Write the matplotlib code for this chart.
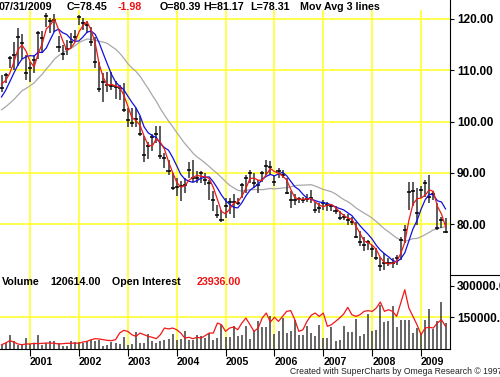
import matplotlib
matplotlib.use('Agg')
import matplotlib.pyplot as plt
from matplotlib.lines import Line2D
import numpy as np
import pandas as pd

plt.rcParams['font.family'] = ['Liberation Sans', 'DejaVu Sans']

# ---------------- data (monthly bars, Jun 2000 .. Jul 2009) ----------------
years = ['2001', '2002', '2003', '2004', '2005', '2006', '2007', '2008', '2009']
year_start_index = [7, 19, 31, 43, 55, 67, 79, 91, 103]

# closes of the months before the first visible bar (seed the moving averages)
warmup_close = [99, 100, 100, 101, 100, 101, 101, 102, 101, 102, 102, 103.6,
                101.5, 102.5, 102.9, 107.0, 108.3]

high = [109.1, 109.5, 112.8, 115.6, 118.2, 117.0, 113.0, 111.6, 113.0, 117.6,
        117.7, 121.1, 120.2, 121.0, 116.7, 115.0, 116.0, 117.2, 117.9, 120.8,
        120.2, 119.6, 118.5, 116.4, 111.6, 109.5, 109.7, 109.7, 108.0, 107.1,
        107.5, 102.7, 102.7, 102.7, 101.0, 97.1, 96.1, 97.5, 99.2, 99.2,
        93.9, 92.6, 90.0, 89.0, 88.4, 89.0, 92.2, 92.6, 90.3, 90.3,
        90.0, 88.7, 86.4, 83.8, 82.8, 85.1, 85.1, 85.8, 85.1, 88.0,
        89.6, 90.6, 90.0, 88.7, 90.3, 92.6, 92.4, 89.6, 91.0, 90.6,
        89.0, 86.4, 85.8, 85.4, 85.4, 85.8, 86.7, 84.4, 84.1, 84.8,
        84.4, 83.8, 83.5, 82.5, 81.9, 81.9, 81.5, 80.5, 78.6, 77.6,
        77.0, 76.0, 75.4, 73.7, 74.4, 73.4, 73.4, 74.0, 77.6, 79.9,
        88.3, 88.3, 87.1, 87.4, 88.7, 89.6, 86.4, 84.1, 81.5, 81.17]
low = [105.8, 107.6, 110.5, 110.0, 110.8, 112.2, 108.2, 107.8, 109.5, 112.2,
       113.4, 118.4, 117.2, 117.5, 113.5, 112.0, 113.0, 114.3, 115.6, 118.8,
       117.8, 117.2, 114.8, 110.5, 105.8, 103.8, 105.8, 106.2, 104.5, 104.2,
       101.9, 99.0, 99.0, 99.0, 97.1, 92.2, 92.8, 94.2, 95.8, 92.8,
       91.0, 89.6, 86.7, 85.5, 84.5, 86.1, 89.0, 88.3, 88.0, 88.0,
       87.7, 84.8, 82.5, 81.2, 80.5, 81.2, 81.9, 81.2, 83.8, 85.1,
       86.1, 88.0, 87.1, 86.1, 88.3, 89.6, 89.6, 87.4, 89.0, 89.0,
       85.8, 83.2, 83.8, 84.1, 84.1, 84.4, 84.1, 82.2, 82.2, 82.8,
       82.5, 82.5, 81.9, 80.9, 80.9, 79.9, 79.9, 77.3, 75.7, 74.7,
       75.0, 73.7, 73.1, 70.8, 71.1, 71.8, 71.5, 72.1, 73.1, 76.3,
       82.8, 83.5, 79.9, 85.1, 85.4, 84.1, 84.8, 78.9, 79.3, 78.31]
close = [106.6, 109.1, 112.4, 113.0, 116.5, 115.3, 109.5, 110.4, 112.0, 117.3,
         116.3, 120.6, 119.6, 119.8, 114.5, 113.2, 114.2, 115.5, 116.5, 120.4,
         119.2, 118.8, 115.5, 111.6, 106.3, 107.8, 107.1, 106.9, 106.8, 106.5,
         102.3, 100.3, 99.8, 100.5, 97.6, 93.4, 95.3, 97.0, 97.6, 93.3,
         93.0, 90.3, 87.0, 87.3, 87.4, 87.7, 90.6, 89.0, 89.0, 90.0,
         88.7, 88.0, 84.8, 81.7, 80.9, 83.5, 84.4, 84.4, 84.2, 87.7,
         89.0, 90.0, 88.0, 87.7, 90.0, 91.3, 91.2, 88.3, 90.3, 89.6,
         86.0, 84.8, 84.8, 85.0, 84.8, 85.0, 85.2, 82.8, 83.2, 84.2,
         83.8, 83.5, 82.5, 81.2, 81.5, 80.9, 80.5, 77.6, 76.6, 76.0,
         76.6, 75.2, 73.4, 71.9, 72.4, 72.4, 72.4, 73.4, 77.0, 78.9,
         86.3, 86.4, 82.2, 86.7, 88.0, 85.4, 85.8, 79.3, 80.9, 78.45]
volume = [18000, 26000, 63000, 34000, 18000, 22000, 50000, 22000, 22000, 63000,
          18000, 26000, 34000, 34000, 26000, 10000, 10000, 34000, 31000, 31000,
          26000, 34000, 42000, 34000, 42000, 10000, 18000, 29000, 26000, 22000,
          55000, 18000, 22000, 79000, 26000, 26000, 69000, 37000, 26000, 37000,
          42000, 47000, 69000, 42000, 47000, 85000, 42000, 42000, 63000, 58000,
          50000, 74000, 42000, 50000, 114000, 53000, 53000, 106000, 58000, 66000,
          109000, 45000, 82000, 130000, 101000, 101000, 154000, 71000, 85000, 146000,
          74000, 82000, 138000, 66000, 66000, 109000, 74000, 61000, 114000, 50000,
          50000, 101000, 37000, 42000, 106000, 77000, 77000, 141000, 58000, 69000,
          165000, 85000, 90000, 210000, 125000, 133000, 202000, 101000, 138000, 138000,
          138000, 74000, 98000, 74000, 138000, 191000, 95000, 130000, 223000, 120614]
open_interest = [4100, 5900, 8500, 7000, 4900, 4100, 4900, 4900, 5600, 5200,
                 5600, 5900, 5900, 5600, 4900, 5200, 5600, 5600, 5900, 5600,
                 7000, 7700, 9500, 10600, 10300, 9500, 8800, 8500, 9500, 16700,
                 19600, 18500, 14900, 13100, 16700, 14900, 13100, 12100, 10600, 14900,
                 22100, 21100, 22100, 20300, 16700, 11300, 12100, 10600, 12100, 11300,
                 13900, 16700, 16700, 27500, 25700, 18500, 22100, 23200, 20300, 27500,
                 32900, 25700, 18500, 22100, 32900, 38300, 28600, 33700, 29300, 34700,
                 40100, 40900, 31100, 18500, 20300, 29300, 35800, 38300, 34700, 38300,
                 23900, 25700, 29300, 32900, 37300, 44500, 36500, 34700, 36500, 40100,
                 40900, 40100, 43700, 50200, 40100, 41900, 40100, 34700, 49100, 63500,
                 43700, 34700, 25700, 14900, 22100, 22900, 22100, 27500, 31100, 23936]

price_ticks = [120, 110, 100, 90, 80]
volume_ticks = [300000, 150000]

# ---------------- derived ----------------
n = len(close)
xi = np.arange(n)
series = pd.Series(warmup_close + close, dtype=float)
w = len(warmup_close)
ma_fast = series.rolling(3).mean().values[w:]
ma_mid = series.rolling(6).mean().values[w:]
ma_slow = series.rolling(18).mean().values[w:]

W, H = 500, 377
fig = plt.figure(figsize=(W / 100, H / 100), dpi=100)
fig.patch.set_facecolor('white')

def fy(py):
    return 1 - py / H

top_px, split_px, bottom_px, right_px = 10, 275, 348.5, 450
ax = fig.add_axes([0, fy(split_px), right_px / W, (split_px - top_px) / H])
axv = fig.add_axes([0, fy(bottom_px), right_px / W, (bottom_px - split_px) / H])

# open interest overlay (own scale, hidden axis)
axo = axv.twinx()

xmin, xmax = -0.37, 110.1
grid_c = '#FFFF30'
for a in (ax, axv):
    a.set_xlim(xmin, xmax)
    a.set_facecolor('white')
    for s in ('left', 'top'):
        a.spines[s].set_visible(False)
    a.spines['right'].set_color('black')
    a.spines['right'].set_linewidth(0.8)
    for xv in year_start_index:
        a.axvline(xv, color=grid_c, lw=1.2, zorder=0)

# ---- price panel ----
ax.set_ylim(70.1, 121.75)
ax.spines['bottom'].set_visible(False)
for p in price_ticks:
    ax.axhline(p, color=grid_c, lw=1.2, zorder=0)
ax.set_xticks([])

ax.vlines(xi, low, high, color='#404040', lw=1.2, zorder=3)
ax.hlines(close, xi - 0.5, xi + 0.5, color='black', lw=1.1, zorder=4)
ax.plot(xi, ma_slow, color='#A8A8A8', lw=0.9, zorder=2)
ax.plot(xi, ma_mid, color='#1010E0', lw=0.9, zorder=5)
ax.plot(xi, ma_fast, color='#F01818', lw=0.9, zorder=6)

# ---- volume panel ----
axv.set_ylim(0, 352000)
axv.axhline(150000, color=grid_c, lw=1.2, zorder=0)
axv.vlines(xi, 0, volume, color='#3a3a3a', lw=1.1, zorder=3)
axv.spines['bottom'].set_color('black')
axv.spines['bottom'].set_linewidth(0.8)
axv.set_xticks(year_start_index)
axv.set_xticklabels(years, fontweight='bold', fontsize=7.6, ha='left')
axv.tick_params(axis='x', direction='out', length=5, width=0.8, pad=1)

axo.set_ylim(0, 79400)
axo.set_xlim(xmin, xmax)
axo.plot(xi, open_interest, color='#F01818', lw=0.9, zorder=5)
axo.axis('off')

# right-hand value scales
for a, ticks in ((ax, price_ticks), (axv, volume_ticks)):
    a.yaxis.tick_right()
    a.yaxis.set_label_position('right')
    a.set_yticks(ticks)
    a.set_yticklabels([f'{t:.2f}' for t in ticks], fontweight='bold', fontsize=8.5)
    a.tick_params(axis='y', which='both', left=False, right=True, labelleft=False,
                  labelright=True, direction='out', length=3, width=0.8, pad=2)

# frame extras
fig.add_artist(Line2D([right_px / W] * 2, [fy(top_px), 1.0], transform=fig.transFigure,
                      color='black', lw=0.8))
fig.add_artist(Line2D([right_px / W, 1.0], [fy(split_px)] * 2, transform=fig.transFigure,
                      color='black', lw=0.8))

# ---- header texts ----
red = '#EE1111'
header = [('07/31/2009', -1, 'black'), ('C=78.45', 67, 'black'), ('-1.98', 118, red),
          ('O=80.39', 160, 'black'), ('H=81.17', 203, 'black'), ('L=78.31', 250, 'black'),
          ('Mov Avg 3 lines', 300, 'black')]
for txt, px, col in header:
    fig.text(px / W, fy(7), txt, color=col, fontsize=7.7, fontweight='bold',
             ha='left', va='center')

vol_header = [('Volume', 2, 'black'), ('120614.00', 50, 'black'),
              ('Open Interest', 112, 'black'), ('23936.00', 197, red)]
for txt, px, col in vol_header:
    fig.text(px / W, fy(282), txt, color=col, fontsize=7.7, fontweight='bold',
             ha='left', va='center')

fig.text(290 / W, fy(371), 'Created with SuperCharts by Omega Research \u00a9 1997',
         fontsize=6.2, color='#222222', ha='left', va='center')

fig.savefig('out.png', dpi=100, facecolor='white')
